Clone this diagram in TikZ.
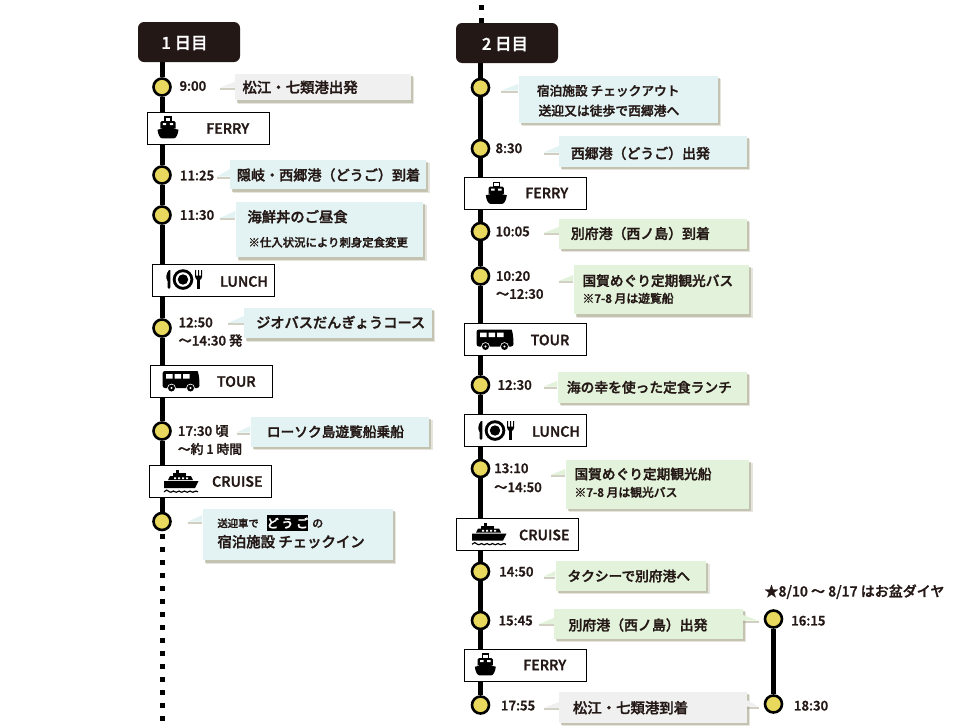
\documentclass[tikz,border=0pt]{standalone}
\usepackage{fontspec}
\setmainfont[FakeBold=1.6]{Noto Sans CJK JP Medium}
\usetikzlibrary{calc,backgrounds}
\definecolor{ink}{HTML}{231815}
\definecolor{stopfill}{HTML}{E9D85E}
\definecolor{cgrey}{HTML}{F0F0F0}
\definecolor{cblue}{HTML}{E3F3F3}
\definecolor{cgreen}{HTML}{E3F2DA}
\definecolor{shad}{HTML}{A9A78F}
\newcounter{txc}
\newcommand{\fs}[1]{\fontsize{#1}{#1}\selectfont}
\tikzset{
  x=1pt,y=-1pt,
  stopdot/.style={circle,draw=black,line width=2.6pt,fill=stopfill,minimum size=17pt,inner sep=0},
  railline/.style={line width=5pt,black},
  dotline/.style={line width=5pt,black,dash pattern=on 5pt off 8pt},
  bannerbox/.style={draw=black,line width=1pt,fill=white,inner sep=0},
  headerbox/.style={fill=ink,rounded corners=6pt,inner sep=0,text=white},
  calloutbox/.style={inner sep=0},
  softshadow/.style={fill=shad,opacity=.55},
  softshadowb/.style={fill=shad,opacity=.3},
  ttext/.style={anchor=west,inner sep=0,text=ink},
  ctext/.style={anchor=center,inner sep=0,text=ink},
}
% rectangle node from two corners
\newcommand{\boxnode}[6]{% style,name,x1,y1,x2,y2
  \pgfmathsetmacro{\bw}{#5-#3}\pgfmathsetmacro{\bh}{#6-#4}
  \pgfmathsetmacro{\bx}{(#5+#3)/2}\pgfmathsetmacro{\by}{(#6+#4)/2}
  \node[#1,minimum width=\bw pt,minimum height=\bh pt] (#2) at (\bx,\by) {};}
\newcommand{\callout}[6]{% name,x1,y1,x2,y2,colour
  \fill[softshadowb] (#2+3,#3+3) rectangle (#4+3.5,#5+3.5);
  \fill[softshadow] (#2+2,#3+2) rectangle (#4+2.3,#5+2.5);
  \boxnode{calloutbox,fill=#6}{#1}{#2}{#3}{#4}{#5}}
\newcommand{\tail}[6]{% box,side,tipx,top,bot,colour
  \coordinate (ta) at (#1.#2 |- 0,#4);
  \coordinate (tb) at (#1.#2 |- 0,#5);
  \coordinate (tc) at (#3,#5);
  \fill[softshadow] ($(tb)+(0,2)$) -- ($(tc)+(0,2)$) -- ($(tc)+(0,0)$) -- (tb) -- cycle;
  \fill[#6] (ta) -- (tc) -- (tb) -- cycle;}
\newcommand{\tx}[4]{% x,y,size,text
  \stepcounter{txc}\node[ttext,font=\fs{#3}] (t\thetxc) at (#1,#2) {#4};}
\newcommand{\cx}[4]{%
  \stepcounter{txc}\node[ctext,font=\fs{#3}] (t\thetxc) at (#1,#2) {#4};}
\newcommand{\icoFerry}[2]{\begin{scope}[shift={(#1,#2)}]
  \draw[line width=1.2pt,fill=white] (-3,-10.5) rectangle (3,-6);
  \fill[black,rounded corners=1.5pt] (-7.6,3) -- (-7.6,-6.5) -- (7.6,-6.5) -- (7.6,3) -- cycle;
  \fill[white] (-5.2,-4.4) rectangle (-1.8,-2.4) (1.8,-4.4) rectangle (5.2,-2.4);
  \fill[white] (-7.6,0.8) rectangle (-6.4,2) (6.4,0.8) rectangle (7.6,2);
  \fill[black] (-10.5,2.2) -- (0,0) -- (10.5,2.2) .. controls (10,7) and (8,10.8) .. (6,10.8) -- (-6,10.8) .. controls (-8,10.8) and (-10,7) .. (-10.5,2.2) -- cycle;
\end{scope}}
\newcommand{\icoLunch}[2]{\begin{scope}[shift={(#1,#2)}]
  \fill[black] (0,0) circle (10.3);
  \fill[white] (0,0) circle (7.3);
  \fill[black] (0,0) circle (5.2);
  \fill[black] (-14,-9.5) .. controls (-17,-6) and (-17.5,-1) .. (-15.4,1.5) -- (-15.4,8) .. controls (-15.4,10) and (-12.6,10) .. (-12.6,8) -- (-12.6,-9.5) -- cycle;
  \fill[black] (14.2,-1) rectangle (17,9.5);
  \fill[black] (12,-9.5) -- (12,-3) .. controls (12,0) and (14,0.5) .. (15.6,0.5) .. controls (17.2,0.5) and (19.2,0) .. (19.2,-3) -- (19.2,-9.5) -- (18,-9.5) -- (18,-4) -- (16.2,-4) -- (16.2,-9.5) -- (15,-9.5) -- (15,-4) -- (13.2,-4) -- (13.2,-9.5) -- cycle;
\end{scope}}
\newcommand{\icoBus}[2]{\begin{scope}[shift={(#1,#2)}]
  \fill[black,rounded corners=2.5pt] (-18.5,-10) -- (14,-10) .. controls (17,-10) and (18.5,-4) .. (18.5,7) -- (-18.5,7) -- cycle;
  \fill[white] (-15,-7) rectangle (-8.5,-2.5) (-6.5,-7) rectangle (0,-2.5) (2,-7) rectangle (8.5,-2.5);
  \fill[white] (-9.5,7) circle (4.3) (9.5,7) circle (4.3);
  \fill[black] (-9.5,7) circle (3.5) (9.5,7) circle (3.5);
  \fill[white] (-9.5,7) circle (1.2) (9.5,7) circle (1.2);
\end{scope}}
\newcommand{\icoCruise}[2]{\begin{scope}[shift={(#1,#2)}]
  \fill[black] (-5,-12) rectangle (-2,-8.5);
  \fill[black] (-8,-8.8) rectangle (5,-6);
  \fill[black] (-11,-6) -- (10,-6) -- (12,-2) -- (-13,-2) -- cycle;
  \fill[black] (-17,-1) -- (17.5,-1) -- (14,6) -- (-17,6) -- cycle;
  \fill[white] (-7,-4.6) rectangle (-5,-3) (-3,-4.6) rectangle (-1,-3) (1,-4.6) rectangle (3,-3) (5,-4.6) rectangle (7,-3);
  \draw[line width=1.2pt] (-17,9.8) .. controls (-15,7.5) and (-13.5,7.5) .. (-11.5,9.8) .. controls (-9.5,11.5) and (-8,7.5) .. (-6,9.8) .. controls (-4,11.5) and (-2.5,7.5) .. (-0.5,9.8) .. controls (1.5,11.5) and (3,7.5) .. (5,9.8) .. controls (7,11.5) and (8.5,7.5) .. (10.5,9.8) .. controls (12.5,11.5) and (14,7.5) .. (17,9.8);
\end{scope}}
\begin{document}
\begin{tikzpicture}
\useasboundingbox (0,0) rectangle (960,726);

% ---------- Day headers
\boxnode{headerbox}{h1}{138}{22}{240}{62}
\cx{184.5}{43}{16.5}{\textcolor{white}{1 日目}}
\boxnode{headerbox}{h2}{456}{23}{558}{63}
\cx{505}{44}{16.5}{\textcolor{white}{2 日目}}

% ---------- Stops
\foreach \n/\xx/\yy in {a1/162/87,a2/162/175,a3/162/215,a4/162/328,a5/162/431,a6/162/521.5,
  b1/480.5/87.5,b2/480.5/148.5,b3/480.5/231.5,b4/480.5/276,b5/480.5/385,b6/480.5/468.5,
  b7/480.5/571.5,b8/480.5/620.5,b9/480.5/705,c1/773.5/619,c2/773.5/704}
  {\node[stopdot] (\n) at (\xx,\yy) {};}

\coordinate (d1a) at (162,534);
\coordinate (d1b) at (162,721);
\coordinate (d2a) at (481,5);

% ---------- Banners
\boxnode{bannerbox}{fe1}{147.5}{112.5}{269.5}{144.5}
\boxnode{bannerbox}{lu1}{152.5}{264.5}{274.5}{296.5}
\boxnode{bannerbox}{to1}{150.5}{365.5}{272.5}{397.5}
\boxnode{bannerbox}{cr1}{149.5}{465.5}{271.5}{497.5}
\boxnode{bannerbox}{fe2}{464.5}{177.5}{586.5}{209.5}
\boxnode{bannerbox}{to2}{464.5}{323.5}{586.5}{355.5}
\boxnode{bannerbox}{lu2}{464.5}{414.5}{586.5}{446.5}
\boxnode{bannerbox}{cr2}{456.5}{518.5}{578.5}{550.5}
\boxnode{bannerbox}{fe3}{464.5}{649.5}{586.5}{681.5}
\cx{227.7}{128.5}{14.2}{FERRY}
\cx{244}{281.5}{14.2}{LUNCH}
\cx{236.3}{381.5}{14.2}{TOUR}
\cx{237.3}{481.5}{14.2}{CRUISE}
\cx{546.7}{193}{14.2}{FERRY}
\cx{550}{340}{14.2}{TOUR}
\cx{556}{431.5}{14.2}{LUNCH}
\cx{544.3}{535}{14.2}{CRUISE}
\cx{544.7}{665}{14.2}{FERRY}
\icoFerry{168}{127.5}
\icoLunch{183}{279.5}
\icoBus{181}{381}
\icoCruise{181}{482}
\icoFerry{496.3}{193}
\icoBus{495}{339.5}
\icoLunch{495}{430.5}
\icoCruise{489}{534.5}
\icoFerry{485.3}{664.5}

% ---------- Rails
\begin{pgfonlayer}{background}
\draw[railline] (h1.south -| a1) -- (a1) -- (a2) -- (a3) -- (a4) -- (a5) -- (a6);
\draw[dotline] (d1a) -- (d1b);
\draw[dotline] (d2a) -- (h2.north -| d2a);
\draw[railline] (h2.south -| b1) -- (b1) -- (b2) -- (b3) -- (b4) -- (b5) -- (b6) -- (b7) -- (b8) -- (b9);
\draw[railline] (c1) -- (c2);
\end{pgfonlayer}

% ---------- Callouts day 1
\callout{k1}{235}{74}{410.5}{100}{cgrey}\tail{k1}{west}{220}{82}{87.5}{cgrey}
\callout{k2}{230}{160}{426}{189}{cblue}\tail{k2}{west}{217}{169}{176.5}{cblue}
\callout{k3}{235.5}{202}{423}{257}{cblue}\tail{k3}{west}{220}{211}{218}{cblue}
\callout{k4}{244}{308}{431.5}{338}{cblue}\tail{k4}{west}{228}{316}{323}{cblue}
\callout{k5}{250.5}{416.5}{429}{446.5}{cblue}\tail{k5}{west}{236.5}{426}{432.5}{cblue}
\callout{k6}{202.5}{509}{392.5}{560}{cblue}\tail{k6}{west}{188}{515}{521.5}{cblue}
% ---------- Callouts day 2
\callout{m1}{518.5}{76}{717.5}{122.5}{cblue}\tail{m1}{west}{501}{84}{90.5}{cblue}
\callout{m2}{559}{136}{746.5}{166.5}{cblue}\tail{m2}{west}{543.5}{146}{152.5}{cblue}
\callout{m3}{559}{218.5}{746.5}{248.5}{cgreen}\tail{m3}{west}{543.5}{227}{233}{cgreen}
\callout{m4}{573.5}{265}{749}{314}{cgreen}\tail{m4}{west}{558.5}{275}{281}{cgreen}
\callout{m5}{557.5}{372}{746.5}{402.5}{cgreen}\tail{m5}{west}{543.5}{381}{386.5}{cgreen}
\callout{m6}{565.5}{459.5}{749}{508.5}{cgreen}\tail{m6}{west}{550.5}{469}{475}{cgreen}
\callout{m7}{555.5}{560.5}{706}{590.5}{cgreen}\tail{m7}{west}{543.5}{571}{576.5}{cgreen}
\callout{m8}{554}{608.5}{742.5}{638.5}{cgreen}\tail{m8}{west}{539}{618}{624}{cgreen}\tail{m8}{east}{758.5}{615}{620.5}{cgreen}
\callout{m9}{559}{691.5}{746.5}{722.5}{cgrey}\tail{m9}{west}{543.5}{702}{708}{cgrey}\tail{m9}{east}{758.5}{700}{706.5}{cgrey}

% ---------- Times day 1
\tx{179.3}{86}{13.3}{9:00}
\tx{179.7}{175.5}{13.3}{11:25}
\tx{179.7}{215}{13.3}{11:30}
\tx{178.3}{322.5}{13.3}{12:50}
\tx{178.3}{340.5}{13.3}{～14:30 発}
\tx{177.7}{431}{13.3}{17:30 頃}
\tx{177.7}{449}{12.8}{～約 1 時間}
% ---------- Text day 1
\tx{242.3}{87.3}{14.4}{松江・七類港出発}
\tx{236.7}{175}{14.1}{隠岐・西郷港（どうご）到着}
\tx{247.3}{216.7}{14.3}{海鮮丼のご昼食}
\tx{248.3}{242.3}{11.4}{※仕入状況により刺身定食変更}
\tx{256}{322.3}{14.2}{ジオバスだんぎょうコース}
\tx{266.7}{431.7}{13.7}{ローソク島遊覧船乗船}
\tx{217.3}{523.3}{10.3}{送迎車で}
\boxnode{fill=black,inner sep=0}{dg}{267}{515}{308}{531}
\stepcounter{txc}\node[inner sep=0,text=white,font=\fs{12}] (t\thetxc) at (dg) {ど う ご};
\cx{317.7}{523.5}{11}{の}
\tx{217.3}{541.7}{14.4}{宿泊施設 チェックイン}
% ---------- Times day 2
\tx{495.3}{148.3}{13.3}{8:30}
\tx{495.3}{231.5}{13.3}{10:05}
\tx{495.7}{276}{13.3}{10:20}
\tx{495.7}{294}{13.3}{～12:30}
\tx{497.3}{385}{13.3}{12:30}
\tx{494}{468.3}{13.3}{13:10}
\tx{494}{487.3}{13.3}{～14:50}
\tx{499}{571.7}{13.3}{14:50}
\tx{498.3}{620.7}{13.3}{15:45}
\tx{500.7}{705.7}{13.3}{17:55}
\tx{791}{620.7}{13.3}{16:15}
\tx{793.7}{705.7}{13.3}{18:30}
% ---------- Text day 2
\tx{536.7}{90.7}{12.7}{宿泊施設 チェックアウト}
\tx{538.3}{110.7}{12.8}{送迎又は徒歩で西郷港へ}
\tx{570.7}{153.3}{13.9}{西郷港（どうご）出発}
\tx{570.7}{233.5}{13.9}{別府港（西ノ島）到着}
\tx{582.3}{280.7}{13.7}{国賀めぐり定期観光バス}
\tx{582.3}{298.3}{11.8}{※7-8 月は遊覧船}
\tx{566.7}{387.3}{13.75}{海の幸を使った定食ランチ}
\tx{574.3}{474}{13.7}{国賀めぐり定期観光船}
\tx{574.3}{492.3}{11.8}{※7-8 月は観光バス}
\tx{567.3}{576}{13.7}{タクシーで別府港へ}
\tx{568.3}{625}{13.9}{別府港（西ノ島）出発}
\tx{572.7}{707.7}{14.4}{松江・七類港到着}
\tx{764.3}{591.7}{14}{★8/10 ～ 8/17 はお盆ダイヤ}
\end{tikzpicture}
\end{document}
